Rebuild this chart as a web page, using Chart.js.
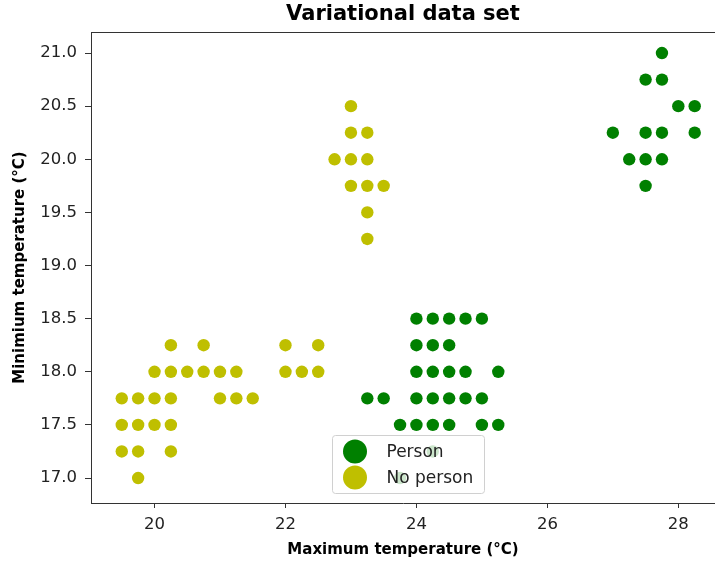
<!DOCTYPE html>
<html>
<head>
<meta charset="utf-8">
<script src="https://cdn.jsdelivr.net/npm/chart.js@4.4.1/dist/chart.umd.min.js"></script>
<style>
  html, body { margin: 0; padding: 0; background: #fff; }
  #c { display: block; }
</style>
</head>
<body>
<canvas id="c" width="715" height="566"></canvas>
<script>
// data
const personX = [24.0, 24.25, 24.5, 24.75, 25.0,
  24.0, 24.25, 24.5,
  24.0, 24.25, 24.5, 24.75, 25.25,
  23.25, 23.5, 24.0, 24.25, 24.5, 24.75, 25.0,
  23.75, 24.0, 24.25, 24.5, 25.0, 25.25,
  24.25, 23.75,
  27.75, 27.5, 27.75, 28.0, 28.25, 27.0, 27.5, 27.75, 28.25, 27.25, 27.5, 27.75, 27.5];
const personY = [18.5, 18.5, 18.5, 18.5, 18.5,
  18.25, 18.25, 18.25,
  18.0, 18.0, 18.0, 18.0, 18.0,
  17.75, 17.75, 17.75, 17.75, 17.75, 17.75, 17.75,
  17.5, 17.5, 17.5, 17.5, 17.5, 17.5,
  17.25, 17.0,
  21.0, 20.75, 20.75, 20.5, 20.5, 20.25, 20.25, 20.25, 20.25, 20.0, 20.0, 20.0, 19.75];

const noPersonX = [20.25, 20.75, 22.0, 22.5,
  20.0, 20.25, 20.5, 20.75, 21.0, 21.25, 22.0, 22.25, 22.5,
  19.5, 19.75, 20.0, 20.25, 21.0, 21.25, 21.5,
  19.5, 19.75, 20.0, 20.25,
  19.5, 19.75, 20.25,
  19.75,
  23.0, 23.0, 23.25, 22.75, 23.0, 23.25, 23.0, 23.25, 23.5, 23.25, 23.25];
const noPersonY = [18.25, 18.25, 18.25, 18.25,
  18.0, 18.0, 18.0, 18.0, 18.0, 18.0, 18.0, 18.0, 18.0,
  17.75, 17.75, 17.75, 17.75, 17.75, 17.75, 17.75,
  17.5, 17.5, 17.5, 17.5,
  17.25, 17.25, 17.25,
  17.0,
  20.5, 20.25, 20.25, 20.0, 20.0, 20.0, 19.75, 19.75, 19.75, 19.5, 19.25];

const seriesLabels = ['Person', 'No person'];
const seriesColors = ['#008000', '#bfbf00'];
const xTicks = [20, 22, 24, 26, 28];
const yTicks = [17.0, 17.5, 18.0, 18.5, 19.0, 19.5, 20.0, 20.5, 21.0];

const toPoints = (xs, ys) => xs.map((x, i) => ({ x: x, y: ys[i] }));

const FONT = "'DejaVu Sans', sans-serif";
const INK = '#222';

// top spine + legend box drawn like matplotlib
const framePlugin = {
  id: 'frame',
  afterDraw(chart) {
    const { ctx, chartArea } = chart;
    ctx.save();
    ctx.strokeStyle = '#333';
    ctx.lineWidth = 1;
    ctx.beginPath();
    ctx.moveTo(chartArea.left, chartArea.top + 0.5);
    ctx.lineTo(chart.width, chartArea.top + 0.5);
    ctx.stroke();

    // legend
    const w = 152, h = 58;
    const lx = 332.5, ly = chartArea.bottom - 10 - h + 0.5;
    ctx.fillStyle = 'rgba(255,255,255,0.8)';
    ctx.strokeStyle = '#d0d0d0';
    ctx.beginPath();
    ctx.roundRect(lx, ly, w, h, 3);
    ctx.fill();
    ctx.stroke();
    chart.data.datasets.forEach((ds, i) => {
      const cy = ly + 16 + i * 26;
      ctx.fillStyle = ds.backgroundColor;
      ctx.beginPath();
      ctx.arc(lx + 22.5, cy, 12, 0, Math.PI * 2);
      ctx.fill();
      ctx.fillStyle = INK;
      ctx.font = '17px ' + FONT;
      ctx.textBaseline = 'middle';
      ctx.textAlign = 'left';
      ctx.fillText(ds.label, lx + 54, cy + 1);
    });
    ctx.restore();
  }
};

new Chart(document.getElementById('c'), {
  type: 'scatter',
  data: {
    datasets: [
      {
        label: seriesLabels[0],
        data: toPoints(personX, personY),
        backgroundColor: seriesColors[0],
        borderColor: seriesColors[0],
        pointRadius: 6.2,
        pointBorderWidth: 0
      },
      {
        label: seriesLabels[1],
        data: toPoints(noPersonX, noPersonY),
        backgroundColor: seriesColors[1],
        borderColor: seriesColors[1],
        pointRadius: 6.2,
        pointBorderWidth: 0
      }
    ]
  },
  options: {
    responsive: false,
    animation: false,
    layout: { autoPadding: false, padding: { left: 0, right: 0, top: 0, bottom: 0 } },
    plugins: {
      legend: { display: false },
      tooltip: { enabled: false },
      title: {
        display: true,
        text: 'Variational data set',
        fullSize: false,
        color: '#000',
        font: { family: FONT, size: 21, weight: 'bold', lineHeight: 1.2 },
        padding: { top: 2, bottom: 4.8 }
      }
    },
    scales: {
      x: {
        type: 'linear',
        min: 19.03,
        max: 28.56,
        afterBuildTicks: axis => { axis.ticks = xTicks.map(v => ({ value: v })); },
        afterFit: axis => { axis.height = 63; },
        grid: {
          drawOnChartArea: false,
          drawTicks: true,
          tickLength: 5,
          tickColor: '#333'
        },
        border: { display: true, color: '#333', width: 1 },
        ticks: {
          color: INK,
          font: { family: FONT, size: 16.5 },
          padding: 7,
          maxRotation: 0,
          callback: v => String(v)
        },
        title: {
          display: true,
          text: 'Maximum temperature (°C)',
          color: '#000',
          font: { family: FONT, size: 15, weight: 'bold' },
          padding: { top: 4, bottom: 6.5 }
        }
      },
      y: {
        type: 'linear',
        min: 16.765,
        max: 21.198,
        afterBuildTicks: axis => { axis.ticks = yTicks.map(v => ({ value: v })); },
        afterFit: axis => { axis.width = 91; },
        grid: {
          drawOnChartArea: false,
          drawTicks: true,
          tickLength: 6,
          tickColor: '#333'
        },
        border: { display: true, color: '#333', width: 1 },
        ticks: {
          color: INK,
          font: { family: FONT, size: 16.5 },
          padding: 8,
          callback: v => Number(v).toFixed(1)
        },
        title: {
          display: true,
          text: 'Minimium temperature (°C)',
          color: '#000',
          font: { family: FONT, size: 15, weight: 'bold' },
          padding: { top: 11, bottom: 0 }
        }
      }
    }
  },
  plugins: [framePlugin]
});
</script>
</body>
</html>
